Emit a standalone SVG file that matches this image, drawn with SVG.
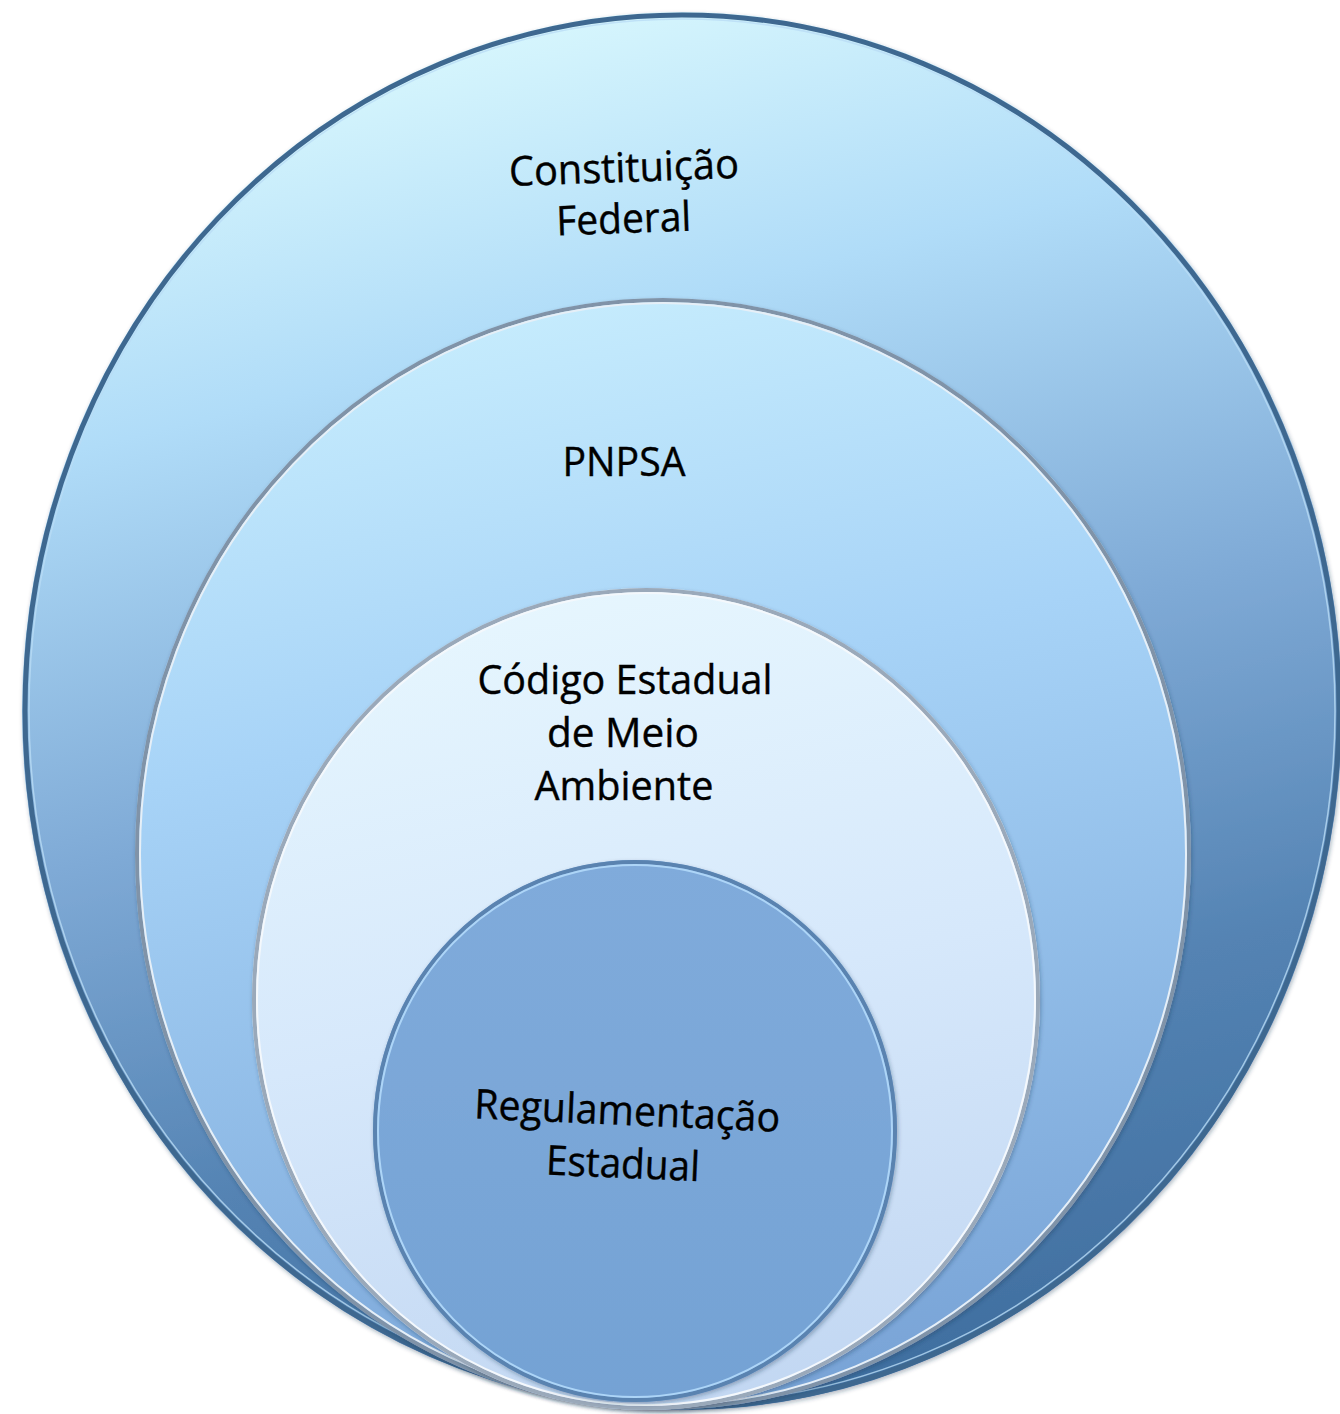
<svg xmlns="http://www.w3.org/2000/svg" width="1340" height="1414" viewBox="0 0 1340 1414">
  <style>
    .lbl { font-family: "Open Sans", "Liberation Sans", sans-serif; font-size: 41px; fill: #000000; text-anchor: middle; stroke: #000000; stroke-width: 0.4px; }
    .edge { fill: none; }
  </style>
  <defs>
    <linearGradient id="g1" x1="0.38" y1="0" x2="0.62" y2="1">
      <stop offset="0" stop-color="#d8f7fd"/>
      <stop offset="0.22" stop-color="#b0dcf8"/>
      <stop offset="0.5" stop-color="#7faad6"/>
      <stop offset="0.75" stop-color="#5483b3"/>
      <stop offset="1" stop-color="#3f6e9f"/>
    </linearGradient>
    <linearGradient id="g2" x1="0.4" y1="0" x2="0.6" y2="1">
      <stop offset="0" stop-color="#c6ecfd"/>
      <stop offset="0.35" stop-color="#a7d3f7"/>
      <stop offset="1" stop-color="#78a3d6"/>
    </linearGradient>
    <linearGradient id="g3" x1="0.4" y1="0" x2="0.6" y2="1">
      <stop offset="0" stop-color="#e6f6fe"/>
      <stop offset="0.5" stop-color="#d6e8fb"/>
      <stop offset="1" stop-color="#c2d7f2"/>
    </linearGradient>
    <linearGradient id="g4" x1="0" y1="0" x2="0" y2="1">
      <stop offset="0" stop-color="#80abdb"/>
      <stop offset="1" stop-color="#74a2d4"/>
    </linearGradient>
    <filter id="sh" x="-5%" y="-5%" width="110%" height="110%">
      <feDropShadow dx="1" dy="2" stdDeviation="2" flood-color="#1c3550" flood-opacity="0.35"/>
    </filter>
  </defs>

  <g id="node-constituicao">
    <ellipse cx="682" cy="711" rx="660" ry="699" fill="url(#g1)" filter="url(#sh)"/>
    <ellipse class="edge" cx="682" cy="711" rx="657" ry="696" stroke="#3e6890" stroke-width="5"/>
    <ellipse class="edge" cx="682" cy="711" rx="653" ry="692" stroke="#b9dcf5" stroke-width="1.5" stroke-opacity="0.8"/>
    <g transform="rotate(-2 625 200)">
      <text class="lbl" x="625" y="182" textLength="230" lengthAdjust="spacingAndGlyphs">Constituição</text>
      <text class="lbl" x="623" y="233" textLength="135" lengthAdjust="spacingAndGlyphs">Federal</text>
    </g>
  </g>

  <g id="node-pnpsa">
    <ellipse cx="663" cy="854" rx="528" ry="556" fill="url(#g2)" filter="url(#sh)"/>
    <ellipse class="edge" cx="663" cy="854" rx="526" ry="554" stroke="#8093a8" stroke-width="4"/>
    <ellipse class="edge" cx="663" cy="854" rx="523" ry="551" stroke="#e6eff7" stroke-width="2"/>
    <text class="lbl" x="624" y="476" textLength="123" lengthAdjust="spacingAndGlyphs">PNPSA</text>
  </g>

  <g id="node-codigo">
    <ellipse cx="646" cy="999" rx="394" ry="411" fill="url(#g3)" filter="url(#sh)"/>
    <ellipse class="edge" cx="646" cy="999" rx="392" ry="409" stroke="#9aa9ba" stroke-width="4"/>
    <ellipse class="edge" cx="646" cy="999" rx="389" ry="406" stroke="#f4f8fc" stroke-width="2"/>
    <text class="lbl" x="625" y="694" textLength="295" lengthAdjust="spacingAndGlyphs">Código Estadual</text>
    <text class="lbl" x="623" y="747" textLength="152" lengthAdjust="spacingAndGlyphs">de Meio</text>
    <text class="lbl" x="624" y="800" textLength="179" lengthAdjust="spacingAndGlyphs">Ambiente</text>
  </g>

  <g id="node-regulamentacao">
    <ellipse cx="635" cy="1131" rx="262" ry="271" fill="url(#g4)" filter="url(#sh)"/>
    <ellipse class="edge" cx="635" cy="1131" rx="260" ry="269" stroke="#5a83b0" stroke-width="4"/>
    <ellipse class="edge" cx="635" cy="1131" rx="257" ry="266" stroke="#add5f7" stroke-width="2"/>
    <g transform="rotate(2.5 626 1140)">
      <text class="lbl" x="626" y="1125" textLength="306" lengthAdjust="spacingAndGlyphs">Regulamentação</text>
      <text class="lbl" x="624" y="1178" textLength="154" lengthAdjust="spacingAndGlyphs">Estadual</text>
    </g>
  </g>

  <g id="connectors"/>
</svg>
